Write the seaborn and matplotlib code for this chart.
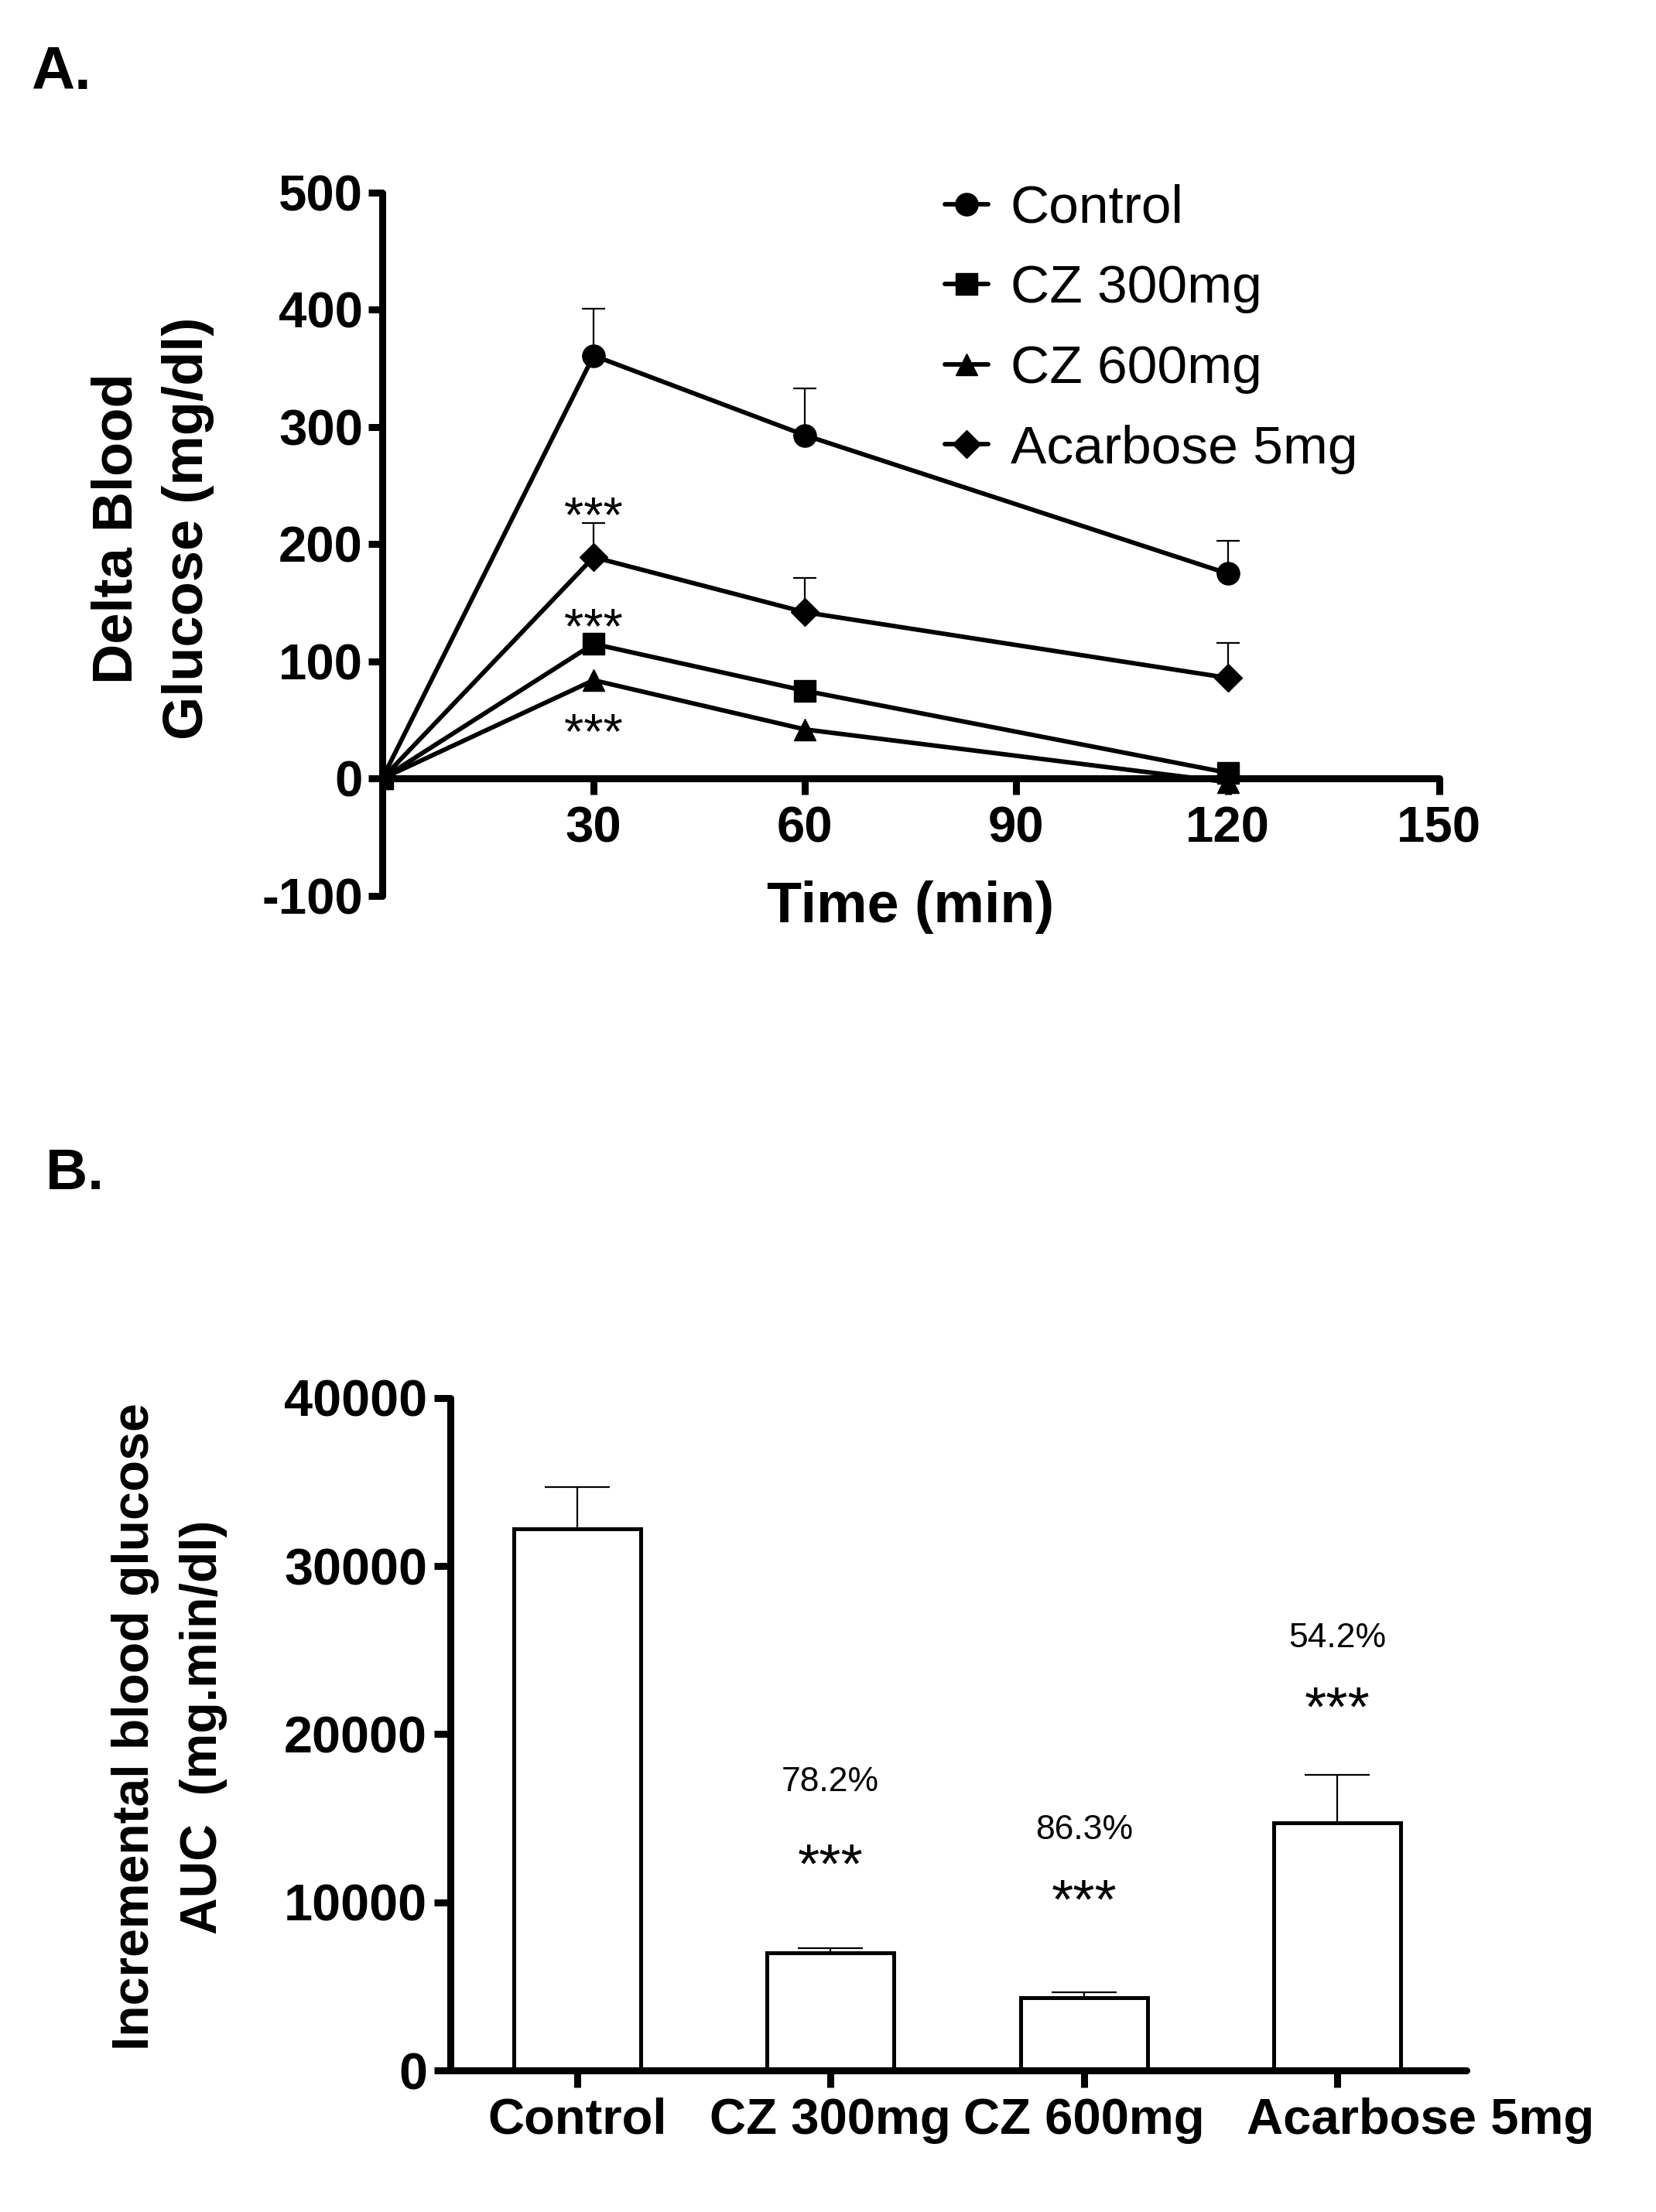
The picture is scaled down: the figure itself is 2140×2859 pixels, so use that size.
import matplotlib
matplotlib.use("Agg")
import matplotlib.pyplot as plt
import matplotlib.transforms as mtransforms
import seaborn as sns
import numpy as np
import pandas as pd

# ---- panel A: delta blood glucose over time ----
times = [0, 30, 60, 120]
groups = ["Control", "CZ 300mg", "CZ 600mg", "Acarbose 5mg"]
control = [0, 361, 293, 175]
cz300 = [0, 115, 75, 5]
cz600 = [0, 84, 42, -3]
acarbose = [0, 189, 142, 86]
control_err = [0, 40, 40, 28]
acarbose_err = [0, 29, 29, 30]
x_ticks_a = [30, 60, 90, 120, 150]
y_ticks_a = [-100, 0, 100, 200, 300, 400, 500]
# significance marks at t=30 (text baseline in data units)
stars_a_y = [211, 116, 26]

# ---- panel B: incremental AUC ----
auc = [32200, 7000, 4350, 14730]
auc_err = [2500, 270, 300, 2850]
pct_labels = ["", "78.2%", "86.3%", "54.2%"]
pct_y = [0, 16600, 13760, 25160]
star_y = [0, 11180, 9060, 20480]
y_ticks_b = [0, 10000, 20000, 30000, 40000]

sns.set_theme(style="ticks")
plt.rcParams["font.family"] = ["Liberation Sans", "DejaVu Sans"]
plt.rcParams.update({
    "axes.linewidth": 6.5,
    "axes.edgecolor": "black",
    "axes.labelcolor": "black",
    "text.color": "black",
    "xtick.color": "black",
    "ytick.color": "black",
    "axes.unicode_minus": False,
})

fig = plt.figure(figsize=(21.4, 28.59), dpi=100)

# ================= A =================
axA = fig.add_axes([0.2308, 0.5950, 0.6383, 0.3179])

df = pd.DataFrame({
    "time": times * 4,
    "value": control + cz300 + cz600 + acarbose,
    "group": np.repeat(groups, len(times)),
})
markers = {"Control": ("o", 21), "CZ 300mg": ("s", 20),
           "CZ 600mg": ("^", 20), "Acarbose 5mg": ("D", 18)}

for g in groups:
    m, ms = markers[g]
    sns.lineplot(data=df[df["group"] == g], x="time", y="value", ax=axA,
                 color="black", linewidth=4.2, marker=m, markersize=ms,
                 markeredgecolor="black", markeredgewidth=1, label=g,
                 zorder=3)

axA.errorbar(times, control, yerr=[np.zeros(4), control_err], fmt="none",
             ecolor="black", elinewidth=1.6, capsize=10.5, capthick=1.6, zorder=2)
axA.errorbar(times, acarbose, yerr=[np.zeros(4), acarbose_err], fmt="none",
             ecolor="black", elinewidth=1.6, capsize=10.5, capthick=1.6, zorder=2)

for yy in stars_a_y:
    axA.text(30, yy, "***", ha="center", va="baseline", fontsize=47)

axA.set_xlim(0, 150)
axA.set_ylim(-100, 500)
axA.set_xticks(x_ticks_a)
axA.set_yticks(y_ticks_a)
axA.spines["top"].set_visible(False)
axA.spines["right"].set_visible(False)
axA.spines["bottom"].set_position(("data", 0))
axA.tick_params(axis="both", width=6.5, length=13, labelsize=47)
axA.tick_params(axis="x", length=15, pad=10)
axA.tick_params(axis="y", pad=5)
for lab in axA.get_xticklabels() + axA.get_yticklabels():
    lab.set_fontweight("bold")

axA.set_xlabel("Time (min)", fontsize=53, fontweight="bold", va="center")
axA.xaxis.set_label_coords(0.5, -0.016)
axA.set_ylabel("Delta Blood\nGlucose (mg/dl)", fontsize=52, fontweight="bold",
               va="center", ha="center", linespacing=1.44)
axA.yaxis.set_label_coords(-0.2174, 0.5226)

axA.legend(loc="upper left", bbox_to_anchor=(0.5706, 0.9168),
           bbox_transform=fig.transFigure, frameon=False, fontsize=50,
           borderpad=0, borderaxespad=0, handlelength=0.8,
           handletextpad=0.42, labelspacing=0.57)

# ================= B =================
axB = fig.add_axes([0.2720, 0.0640, 0.6136, 0.3040])
sns.barplot(x=groups, y=auc, order=groups, color="white", saturation=1,
            edgecolor="black", linewidth=3.6, width=0.5, errorbar=None, ax=axB)
axB.errorbar(range(len(groups)), auc, yerr=[np.zeros(4), auc_err], fmt="none",
             ecolor="black", elinewidth=1.6, capsize=30, capthick=1.6, zorder=1)

for i in range(1, len(groups)):
    axB.text(i, pct_y[i], pct_labels[i], ha="center", va="baseline", fontsize=32)
    axB.text(i, star_y[i], "***", ha="center", va="baseline", fontsize=52)

axB.set_xlim(-0.5, 3.51)
axB.set_ylim(0, 40000)
axB.set_yticks(y_ticks_b)
axB.spines["top"].set_visible(False)
axB.spines["right"].set_visible(False)
axB.tick_params(axis="both", width=6.5, labelsize=48)
axB.tick_params(axis="x", length=16, pad=9, labelsize=47)
axB.tick_params(axis="y", length=15, pad=6.5)
for lab in axB.get_xticklabels() + axB.get_yticklabels():
    lab.set_fontweight("bold")
# the last category label sits a little to the right, as in the original
last = axB.get_xticklabels()[-1]
last.set_transform(last.get_transform()
                   + mtransforms.ScaledTranslation(1.07, 0, fig.dpi_scale_trans))
axB.set_xlabel("")
axB.set_ylabel("Incremental blood glucose\nAUC  (mg.min/dl)", fontsize=47.5,
               fontweight="bold", va="center", ha="center", linespacing=1.53)
axB.yaxis.set_label_coords(-0.2765, 0.511)

# rounded axis line ends
for ax in (axA, axB):
    for side in ("left", "bottom"):
        ax.spines[side].set_capstyle("round")

# panel letters
fig.text(40 / 2140, 1 - 115 / 2859, "A.", fontsize=56, fontweight="bold",
         ha="left", va="baseline")
fig.text(59 / 2140, 1 - 1537 / 2859, "B.", fontsize=54, fontweight="bold",
         ha="left", va="baseline")

fig.savefig("out.png", dpi=100)
